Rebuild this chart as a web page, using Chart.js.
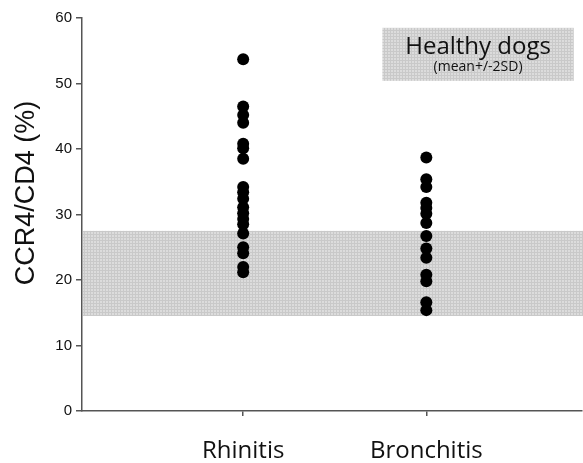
<!DOCTYPE html>
<html>
<head>
<meta charset="utf-8">
<script src="https://cdn.jsdelivr.net/npm/chart.js@4"></script>
<style>
  html, body { margin: 0; padding: 0; background: #fff; }
  #wrap { width: 583px; height: 463px; }
</style>
</head>
<body>
<div id="wrap"><canvas id="chart"></canvas></div>
<script>
const groups = ['Rhinitis', 'Bronchitis'];
const rhinitis = [53.7, 46.5, 45.2, 44.0, 40.8, 40.1, 38.5, 34.2, 33.4, 32.4, 31.1, 30.2, 29.3, 28.5, 27.1, 25.0, 24.1, 22.0, 21.2];
const bronchitis = [38.7, 35.4, 34.2, 31.8, 31.0, 30.1, 28.7, 26.7, 24.8, 23.4, 20.8, 19.8, 16.6, 15.4];
const yTicks = [0, 10, 20, 30, 40, 50, 60];
const healthyBand = [14.5, 27.5];   // mean +/- 2SD
const legendTitle = 'Healthy dogs';
const legendSub = '(mean+/-2SD)';
const yTitle = 'CCR4/CD4 (%)';

function makePattern(ctx) {
  const p = document.createElement('canvas');
  p.width = 3; p.height = 3;
  const c = p.getContext('2d');
  c.fillStyle = '#dcdcdc';
  c.fillRect(0, 0, 3, 3);
  c.fillStyle = '#c9c9c9';
  c.fillRect(0, 0, 3, 1);
  c.fillRect(0, 0, 1, 3);
  return ctx.createPattern(p, 'repeat');
}

const bandPlugin = {
  id: 'band',
  beforeDatasetsDraw(chart) {
    const { ctx, chartArea, scales } = chart;
    const pat = makePattern(ctx);
    const y1 = scales.y.getPixelForValue(healthyBand[1]);
    const y0 = scales.y.getPixelForValue(healthyBand[0]);
    ctx.save();
    ctx.fillStyle = pat;
    ctx.fillRect(chartArea.left + 1, y1, chartArea.right - chartArea.left, y0 - y1);

    // legend box
    const bx0 = scales.x.getPixelForValue(1.76);
    const bx1 = scales.x.getPixelForValue(2.805);
    const by0 = scales.y.getPixelForValue(58.5);
    const by1 = scales.y.getPixelForValue(50.4);
    ctx.fillRect(bx0, by0, bx1 - bx0, by1 - by0);
    ctx.fillStyle = '#111';
    ctx.textAlign = 'center';
    ctx.textBaseline = 'middle';
    const cx = (bx0 + bx1) / 2;
    ctx.font = '24px "Open Sans"';
    ctx.fillText(legendTitle, cx, by0 + 19);
    ctx.font = '14px "Open Sans"';
    ctx.fillText(legendSub, cx, by0 + 39);
    ctx.restore();
  },
  afterDraw(chart) {
    const { ctx } = chart;
    ctx.save();
    ctx.translate(27, 193);
    ctx.rotate(-Math.PI / 2);
    ctx.fillStyle = '#111';
    ctx.textAlign = 'center';
    ctx.textBaseline = 'middle';
    ctx.font = '27px "Liberation Sans"';
    ctx.fillText(yTitle, 0, 0);
    ctx.restore();
  }
};

new Chart(document.getElementById('chart'), {
  type: 'scatter',
  data: {
    datasets: [
      { label: groups[0], data: rhinitis.map(v => ({ x: 1, y: v })) },
      { label: groups[1], data: bronchitis.map(v => ({ x: 2, y: v })) }
    ]
  },
  options: {
    responsive: true,
    maintainAspectRatio: false,
    animation: false,
    layout: { autoPadding: false, padding: { top: 18, right: 1, left: 0, bottom: 0 } },
    elements: {
      point: { radius: 6, backgroundColor: '#000', borderColor: '#000', borderWidth: 0, hoverRadius: 6 }
    },
    plugins: { legend: { display: false }, tooltip: { enabled: false } },
    scales: {
      x: {
        type: 'linear',
        min: 0.12,
        max: 2.85,
        afterBuildTicks(axis) { axis.ticks = [{ value: 1 }, { value: 2 }]; },
        afterFit(axis) { axis.height = 52; },
        grid: { drawOnChartArea: false, tickLength: 5, color: '#555', lineWidth: 1.5 },
        border: { color: '#555', width: 1.5 },
        ticks: {
          padding: 21,
          color: '#111',
          font: { family: '"Open Sans"', size: 24 },
          callback: v => groups[v - 1]
        }
      },
      y: {
        min: 0,
        max: 60,
        afterBuildTicks(axis) { axis.ticks = yTicks.map(v => ({ value: v })); },
        afterFit(axis) { axis.width = 82; },
        grid: { drawOnChartArea: false, tickLength: 6, color: '#555', lineWidth: 1.5 },
        border: { color: '#555', width: 1.5 },
        ticks: {
          padding: 4,
          color: '#111',
          font: { family: '"Liberation Sans"', size: 15 }
        }
      }
    }
  },
  plugins: [bandPlugin]
});
</script>
</body>
</html>
